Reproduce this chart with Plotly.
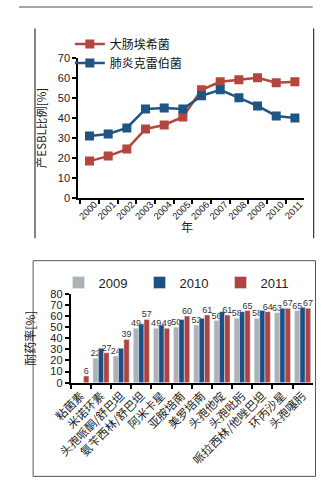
import plotly.graph_objects as go

W, H = 324, 497

# ---------- data: top line chart ----------
years = ["2000", "2001", "2002", "2003", "2004", "2005",
         "2006", "2007", "2008", "2009", "2010", "2011"]
ecoli = [18.5, 21, 24.5, 34.5, 36.5, 40.5, 54, 58, 59, 60, 57.5, 58]
kpneu = [31, 32, 35, 44.5, 45, 44.5, 51, 54, 50, 46, 41, 40]
line_names = ["大肠埃希菌", "肺炎克雷伯菌"]

# ---------- data: bottom bar chart ----------
drugs = ["粘菌素", "米诺环素", "头孢哌酮/舒巴坦", "氨苄西林/舒巴坦", "阿米卡星",
         "亚胺培南", "美罗培南", "头孢他啶", "头孢吡肟", "哌拉西林/他唑巴坦",
         "环丙沙星", "头孢噻肟"]
r2009 = [None, 22, 24, 49, 49, 50, 52, 56, 58, 58, 63, 65]
r2010 = [None, 31, 31, 53, 52, 57, 58, 64, 64, 65, 67, 68]
r2011 = [6, 27, 39, 57, 49, 60, 61, 61, 65, 64, 67, 67]
bar_years = ["2009", "2010", "2011"]

RED = "#b4463f"
BLUE = "#1f5583"
GRAY = "#adb2b8"
BAR_RED = "#b0433f"
BAR_BLUE = "#1d4f86"

FONT = "Liberation Sans, Arial, Noto Sans CJK SC"
CJK = "Noto Sans CJK SC"


def px(x):
    return x / W


def py(y):
    return 1 - y / H


fig = go.Figure()

fig.add_trace(go.Scatter(
    x=years, y=ecoli, name=line_names[0], mode="lines+markers",
    line=dict(color=RED, width=2.5),
    marker=dict(symbol="square", size=9, color=RED),
    xaxis="x", yaxis="y", legend="legend"))
fig.add_trace(go.Scatter(
    x=years, y=kpneu, name=line_names[1], mode="lines+markers",
    line=dict(color=BLUE, width=2.5),
    marker=dict(symbol="square", size=9, color=BLUE),
    xaxis="x", yaxis="y", legend="legend"))


def lab(vals):
    return ["" if v is None else str(v) for v in vals]


fig.add_trace(go.Bar(
    x=drugs, y=r2009, name=bar_years[0], marker_color=GRAY,
    text=lab(r2009), textposition="outside", constraintext="none",
    cliponaxis=False, textfont=dict(size=9, color="#333", family=FONT),
    xaxis="x2", yaxis="y2", legend="legend2"))
fig.add_trace(go.Bar(
    x=drugs, y=r2010, name=bar_years[1], marker_color=BAR_BLUE,
    xaxis="x2", yaxis="y2", legend="legend2"))
fig.add_trace(go.Bar(
    x=drugs, y=r2011, name=bar_years[2], marker_color=BAR_RED,
    text=lab(r2011), textposition="outside", constraintext="none",
    cliponaxis=False, textfont=dict(size=9, color="#333", family=FONT),
    xaxis="x2", yaxis="y2", legend="legend2"))

axis_common = dict(showline=True, linecolor="black", linewidth=2,
                   ticks="outside", tickcolor="black", ticklen=4, tickwidth=1.5,
                   showgrid=False, zeroline=False)

fig.update_layout(
    width=W, height=H,
    margin=dict(l=0, r=0, t=0, b=0),
    paper_bgcolor="white", plot_bgcolor="white",
    font=dict(family=FONT, color="#222"),
    barmode="group", bargap=0.2, bargroupgap=0,
    xaxis=dict(domain=[px(63), px(303)], anchor="y", range=[-0.6, 11.5],
               tickson="boundaries", tickangle=-45,
               tickmode="linear", tick0=0, dtick=1,
               ticklabelstandoff=-5, ticklabelshift=5,
               tickfont=dict(size=9.5, family=FONT),
               **axis_common),
    yaxis=dict(domain=[py(197), py(53)], anchor="x", range=[0, 70],
               dtick=10, tickfont=dict(size=11, family=FONT),
               title=dict(text="产ESBL比例[%]", font=dict(size=11.5, family=CJK),
                          standoff=9),
               **axis_common),
    xaxis2=dict(domain=[px(55), px(312)], anchor="y2", range=[-0.5, 11.5],
                tickson="boundaries", tickangle=-45,
                tickmode="linear", tick0=0, dtick=1,
                tickfont=dict(size=11.5, family=CJK, color="#222"),
                **axis_common),
    yaxis2=dict(domain=[py(386), py(295)], anchor="x2", range=[0, 80],
                dtick=10, tickfont=dict(size=11, family=FONT),
                title=dict(text="耐药率[%]", font=dict(size=12, family=CJK),
                           standoff=12),
                **axis_common),
    legend=dict(x=px(54), y=py(24), xanchor="left", yanchor="top",
                bgcolor="rgba(0,0,0,0)", font=dict(size=12, family=CJK, color="#111"),
                tracegroupgap=0, itemwidth=30),
    legend2=dict(x=px(42), y=py(268), xanchor="left", yanchor="top",
                 orientation="h", bgcolor="rgba(0,0,0,0)",
                 entrywidth=36, entrywidthmode="pixels", itemwidth=30,
                 font=dict(size=13, family=FONT, color="#222")),
    annotations=[
        dict(text="年", xref="paper", yref="paper", x=px(178), y=py(226),
             showarrow=False, font=dict(size=12, family=CJK, color="#222")),
    ],
    shapes=[
        dict(type="line", xref="paper", yref="paper", x0=0, x1=px(312),
             y0=py(1), y1=py(1), line=dict(color="#888", width=1.5)),
        dict(type="line", xref="paper", yref="paper", x0=px(17), x1=px(17),
             y0=py(23), y1=py(238), line=dict(color="#333", width=1.2)),
        dict(type="line", xref="paper", yref="paper", x0=px(313), x1=px(313),
             y0=py(23), y1=py(238), line=dict(color="#333", width=1.2)),
        dict(type="rect", xref="paper", yref="paper", x0=px(15), x1=px(315),
             y0=py(482), y1=py(261), line=dict(color="#555", width=1)),
    ],
)

fig.write_html("out.html")
